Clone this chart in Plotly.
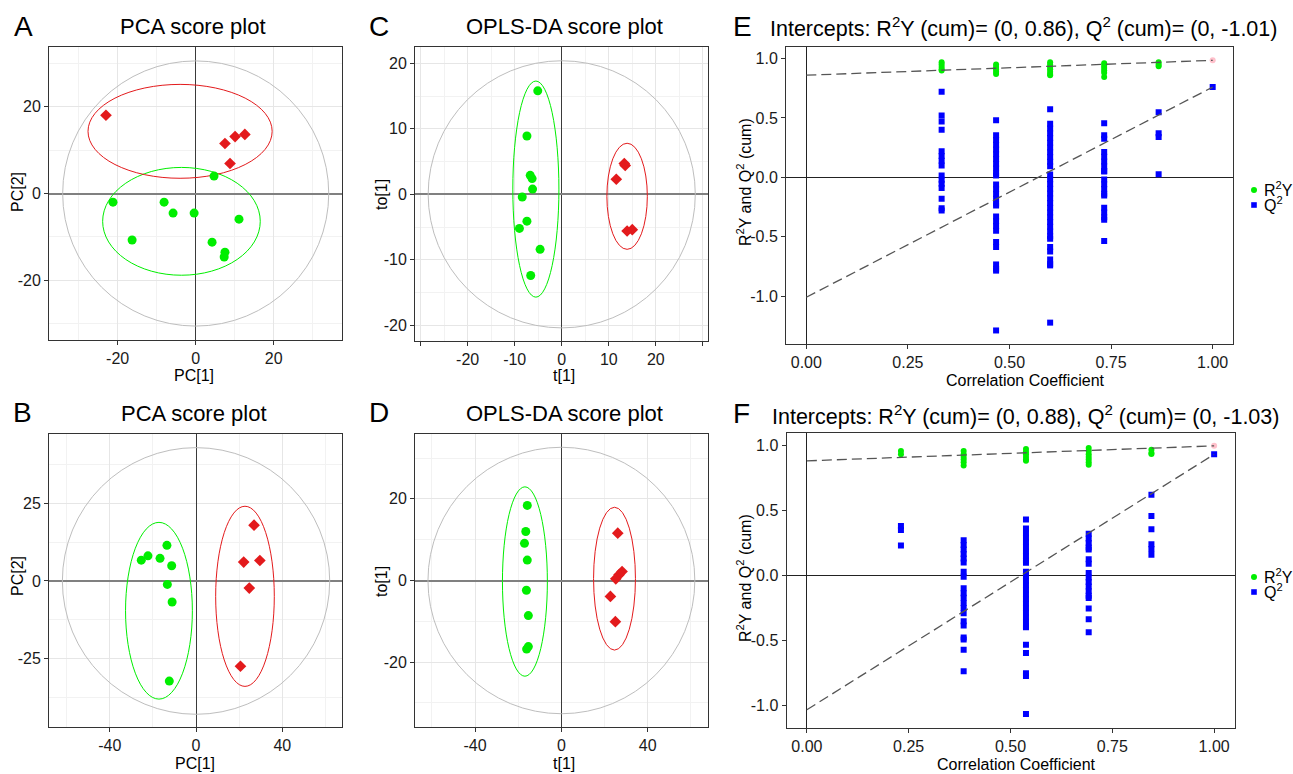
import plotly.graph_objects as go

W, H = 1293, 774
FONT = "Liberation Sans, Arial, Helvetica, sans-serif"
GREEN = "#00EE00"
RED = "#E31A1C"
BLUE = "#0000FF"
PINK = "#FFC0CB"
GREY_CIRCLE = "#BEBEBE"
TXT = "#1A1A1A"
BORDER = "#333333"

# ---------------- Panel A: PCA ----------------
a_ctrl_x = [4.7, -21.2, -8.1, -5.8, -0.4, 11.1, -16.3, 4.2, 7.5, 7.3]
a_ctrl_y = [4.0, -2.0, -2.0, -4.5, -4.5, -5.9, -10.7, -11.2, -13.5, -14.6]
a_trt_x = [-23.0, 7.5, 10.1, 12.6, 8.8]
a_trt_y = [18.0, 11.5, 13.1, 13.6, 6.9]
a_t2 = [0.0, 0.0, 34.1, 30.5]          # center x, center y, semi x, semi y
a_ell_ctrl = [-3.65, -6.4, 20.2, 12.4]
a_ell_trt = [-4.0, 14.3, 23.6, 10.8]

# ---------------- Panel C: OPLS-DA ----------------
c_ctrl_x = [-5.1, -7.4, -6.7, -6.3, -6.2, -8.4, -7.4, -9.0, -4.6, -6.6]
c_ctrl_y = [15.8, 8.9, 2.9, 2.4, 0.8, -0.4, -4.1, -5.2, -8.4, -12.4]
c_trt_x = [11.6, 13.3, 13.5, 13.9, 15.0]
c_trt_y = [2.3, 4.7, 4.4, -5.6, -5.4]
c_t2 = [0.0, 0.0, 28.4, 20.4]
c_ell_ctrl = [-5.5, 0.8, 4.9, 16.5]
c_ell_trt = [13.9, -0.3, 4.3, 8.1]

# ---------------- Panel B: PCA ----------------
b_ctrl_x = [-25.4, -22.3, -16.7, -13.5, -11.3, -13.3, -11.1, -12.4]
b_ctrl_y = [6.7, 8.1, 7.3, 11.5, 4.9, -1.1, -6.8, -32.3]
b_trt_x = [26.9, 22.1, 29.6, 24.7, 20.6]
b_trt_y = [18.0, 6.1, 6.6, -2.3, -27.5]
b_t2 = [0.0, 0.0, 62.0, 43.0]
b_ell_ctrl = [-17.2, -9.6, 15.5, 28.5]
b_ell_trt = [22.7, -4.95, 13.6, 29.05]

# ---------------- Panel D: OPLS-DA ----------------
d_ctrl_x = [-15.8, -16.5, -17.1, -15.8, -16.2, -15.3, -15.3, -16.1]
d_ctrl_y = [18.4, 12.0, 9.1, 5.0, -2.4, -8.6, -16.2, -16.8]
d_trt_x = [26.1, 28.1, 26.7, 25.2, 22.7, 25.0]
d_trt_y = [11.6, 2.2, 1.4, 0.4, -3.9, -10.1]
d_t2 = [0.0, 0.0, 61.8, 32.65]
d_ell_ctrl = [-16.9, -0.25, 10.4, 23.2]
d_ell_trt = [24.6, 0.45, 9.7, 17.5]

# ---------------- Panel E: permutation test ----------------
e_perm_x = [0.333, 0.467, 0.600, 0.733, 0.867]
e_r2y = [
    [0.97, 0.95, 0.93, 0.91, 0.90],
    [0.95, 0.93, 0.91, 0.89, 0.87],
    [0.97, 0.95, 0.93, 0.91, 0.89, 0.87, 0.86],
    [0.96, 0.94, 0.92, 0.90, 0.88, 0.845],
    [0.97, 0.95, 0.935],
]
e_q2 = [
    [0.72, 0.52, 0.47, 0.40, 0.22, 0.18, 0.14, 0.10, 0.015, -0.02, -0.055, -0.09,
     -0.18, -0.26, -0.28],
    [0.48, 0.355, 0.315, 0.275, 0.235, 0.195, 0.155, 0.115, 0.075, 0.035, 0.016,
     -0.06, -0.10, -0.14, -0.18, -0.22, -0.237, -0.33, -0.37, -0.41, -0.45,
     -0.544, -0.586, -0.734, -0.77, -0.786, -1.29],
    [0.574, 0.45, 0.41, 0.37, 0.33, 0.29, 0.25, 0.21, 0.17, 0.13, 0.094, 0.023,
     -0.017, -0.057, -0.097, -0.137, -0.177, -0.217, -0.257, -0.297, -0.337,
     -0.377, -0.417, -0.457, -0.497, -0.518, -0.588, -0.624, -0.692, -0.732,
     -0.742, -1.224],
    [0.455, 0.355, 0.324, 0.214, 0.174, 0.134, 0.094, 0.054, 0.049, -0.019,
     -0.059, -0.099, -0.139, -0.153, -0.257, -0.297, -0.337, -0.358, -0.536],
    [0.547, 0.37, 0.34, 0.025],
]
e_orig = [1.0, 0.985, 0.76]           # x, R2Y, Q2 of the real model
e_intercepts = [0.86, -1.01]           # R2Y, Q2 intercepts

# ---------------- Panel F: permutation test ----------------
f_perm_x = [0.231, 0.385, 0.538, 0.692, 0.846]
f_r2y = [
    [0.955, 0.93],
    [0.955, 0.93, 0.91, 0.89, 0.87, 0.845],
    [0.97, 0.95, 0.93, 0.91, 0.89, 0.88],
    [0.978, 0.955, 0.93, 0.91, 0.89, 0.87, 0.85],
    [0.965, 0.94, 0.933],
]
f_q2 = [
    [0.38, 0.35, 0.23],
    [0.27, 0.235, 0.20, 0.165, 0.13, 0.10, 0.03, -0.01, -0.098, -0.135, -0.17,
     -0.21, -0.25, -0.289, -0.35, -0.383, -0.475, -0.49, -0.569, -0.734],
    [0.43, 0.36, 0.325, 0.29, 0.255, 0.22, 0.185, 0.15, 0.115, 0.098, 0.03,
     -0.005, -0.04, -0.075, -0.11, -0.145, -0.18, -0.215, -0.25, -0.285, -0.32,
     -0.355, -0.39, -0.396, -0.532, -0.595, -0.75, -0.77, -1.063],
    [0.32, 0.285, 0.25, 0.215, 0.20, 0.125, 0.09, 0.02, -0.015, -0.05, -0.085,
     -0.12, -0.155, -0.173, -0.253, -0.336, -0.435],
    [0.62, 0.456, 0.355, 0.241, 0.203, 0.16],
]
f_orig = [1.0, 0.995, 0.93]
f_intercepts = [0.88, -1.03]

# ---------------- ticks ----------------
a_xticks, a_xlabels, a_xminor = [-20, 0, 20], ["-20", "0", "20"], [-30, -10, 10, 30]
a_yticks, a_ylabels, a_yminor = [-20, 0, 20], ["-20", "0", "20"], [-30, -10, 10, 30]
c_xticks = [-30, -20, -10, 0, 10, 20, 30]
c_xlabels = ["", "-20", "-10", "0", "10", "20", ""]
c_xminor = [-25, -15, -5, 5, 15, 25]
c_yticks, c_ylabels = [-20, -10, 0, 10, 20], ["-20", "-10", "0", "10", "20"]
c_yminor = [-15, -5, 5, 15]
b_xticks, b_xlabels, b_xminor = [-40, 0, 40], ["-40", "0", "40"], [-60, -20, 20, 60]
b_yticks, b_ylabels, b_yminor = [-25, 0, 25], ["-25", "0", "25"], [-37.5, -12.5, 12.5, 37.5]
d_xticks, d_xlabels, d_xminor = [-40, 0, 40], ["-40", "0", "40"], [-60, -20, 20, 60]
d_yticks, d_ylabels, d_yminor = [-20, 0, 20], ["-20", "0", "20"], [-30, -10, 10, 30]
ef_xticks = [0, 0.25, 0.5, 0.75, 1.0]
ef_xlabels = ["0.00", "0.25", "0.50", "0.75", "1.00"]
ef_yticks = [-1.0, -0.5, 0.0, 0.5, 1.0]
ef_ylabels = ["-1.0", "-0.5", "0.0", "0.5", "1.0"]


def fx(px):
    return px / W


def fy(py):
    return 1 - py / H


fig = go.Figure()
layout = dict(
    width=W, height=H, margin=dict(l=0, r=0, t=0, b=0),
    paper_bgcolor="white", plot_bgcolor="white",
    font=dict(family=FONT, size=16, color=TXT),
    showlegend=False,
)
shapes = []
annotations = []


def axis_names(n):
    return ("x" if n == 1 else f"x{n}"), ("y" if n == 1 else f"y{n}")


def setup_axes(n, xpix, ypix, xr, yr, xt, xl, yt, yl, xminor=None, yminor=None, grid=True, score=True):
    xa, ya = axis_names(n)
    common = dict(
        showline=True, mirror=True, linecolor=BORDER, linewidth=1,
        ticks="outside", ticklen=4, tickwidth=1, tickcolor=BORDER,
        tickfont=dict(size=16, color=TXT, family=FONT),
        tickmode="array", zeroline=True, fixedrange=True,
    )
    xd = dict(common, domain=[fx(xpix[0]), fx(xpix[1])], range=xr, anchor=ya,
              tickvals=xt, ticktext=xl, showgrid=grid, gridcolor="#E6E6E6", gridwidth=1)
    yd = dict(common, domain=[fy(ypix[1]), fy(ypix[0])], range=yr, anchor=xa,
              tickvals=yt, ticktext=yl, showgrid=grid, gridcolor="#E6E6E6", gridwidth=1)
    if grid:
        xd["minor"] = dict(tickmode="array", tickvals=xminor, showgrid=True,
                           gridcolor="#F2F2F2", gridwidth=1, ticks="")
        yd["minor"] = dict(tickmode="array", tickvals=yminor, showgrid=True,
                           gridcolor="#F2F2F2", gridwidth=1, ticks="")
    if score:
        xd.update(zerolinecolor="#3A3A3A", zerolinewidth=1)
        yd.update(zerolinecolor="#808080", zerolinewidth=1.8)
    else:
        xd.update(zerolinecolor="#222222", zerolinewidth=1)
        yd.update(zerolinecolor="#222222", zerolinewidth=1.2)
    layout["xaxis" if n == 1 else f"xaxis{n}"] = xd
    layout["yaxis" if n == 1 else f"yaxis{n}"] = yd


def ellipse_shape(n, e, color):
    xa, ya = axis_names(n)
    cx, cy, a, b = e
    shapes.append(dict(type="circle", xref=xa, yref=ya, layer="between",
                       x0=cx - a, x1=cx + a, y0=cy - b, y1=cy + b,
                       line=dict(color=color, width=1), fillcolor="rgba(0,0,0,0)"))


def score_panel(n, ctrl_x, ctrl_y, trt_x, trt_y, t2, e_ctrl, e_trt):
    xa, ya = axis_names(n)
    ellipse_shape(n, t2, GREY_CIRCLE)
    ellipse_shape(n, e_ctrl, GREEN)
    ellipse_shape(n, e_trt, RED)
    fig.add_trace(go.Scatter(x=ctrl_x, y=ctrl_y, mode="markers", xaxis=xa, yaxis=ya,
                             marker=dict(symbol="circle", size=9, color=GREEN, line=dict(width=0)),
                             hoverinfo="skip"))
    fig.add_trace(go.Scatter(x=trt_x, y=trt_y, mode="markers", xaxis=xa, yaxis=ya,
                             marker=dict(symbol="diamond", size=9, color=RED, line=dict(width=0)),
                             hoverinfo="skip"))


def perm_panel(n, perm_x, r2y, q2, orig, intercepts):
    xa, ya = axis_names(n)
    rx, ry, qx, qy = [], [], [], []
    for xv, vals in zip(perm_x, r2y):
        rx += [xv] * len(vals)
        ry += vals
    for xv, vals in zip(perm_x, q2):
        qx += [xv] * len(vals)
        qy += vals
    fig.add_trace(go.Scatter(x=qx + [orig[0]], y=qy + [orig[2]], mode="markers", xaxis=xa, yaxis=ya,
                             marker=dict(symbol="square", size=6, color=BLUE, line=dict(width=0)),
                             hoverinfo="skip"))
    fig.add_trace(go.Scatter(x=rx, y=ry, mode="markers", xaxis=xa, yaxis=ya,
                             marker=dict(symbol="circle", size=6, color=GREEN, line=dict(width=0)),
                             hoverinfo="skip"))
    fig.add_trace(go.Scatter(x=[orig[0]], y=[orig[1]], mode="markers", xaxis=xa, yaxis=ya,
                             marker=dict(symbol="circle", size=6, color=PINK, line=dict(width=0)),
                             hoverinfo="skip"))
    fig.add_trace(go.Scatter(x=[0, orig[0]], y=[intercepts[0], orig[1]], mode="lines",
                             xaxis=xa, yaxis=ya, hoverinfo="skip",
                             line=dict(color="#555555", width=1.3, dash="10px,5px")))
    fig.add_trace(go.Scatter(x=[0, orig[0]], y=[intercepts[1], orig[2]], mode="lines",
                             xaxis=xa, yaxis=ya, hoverinfo="skip",
                             line=dict(color="#555555", width=1.3, dash="10px,5px")))


# axes
setup_axes(1, (49, 342), (47, 340), [-37.6, 37.5], [-33.7, 33.7],
           a_xticks, a_xlabels, a_yticks, a_ylabels, a_xminor, a_yminor)
setup_axes(2, (415, 708), (47, 341), [-31.2, 31.1], [-22.4, 22.5],
           c_xticks, c_xlabels, c_yticks, c_ylabels, c_xminor, c_yminor)
setup_axes(3, (786, 1233), (46.7, 344), [-0.05, 1.05], [-1.404, 1.10],
           ef_xticks, ef_xlabels, ef_yticks, ef_ylabels, grid=False, score=False)
setup_axes(4, (49, 342), (434, 727), [-68.2, 67.7], [-47.1, 47.4],
           b_xticks, b_xlabels, b_yticks, b_ylabels, b_xminor, b_yminor)
setup_axes(5, (415, 708), (434, 727), [-67.8, 67.9], [-35.9, 35.9],
           d_xticks, d_xlabels, d_yticks, d_ylabels, d_xminor, d_yminor)
setup_axes(6, (786.5, 1234.5), (432.7, 727.5), [-0.05, 1.05], [-1.166, 1.096],
           ef_xticks, ef_xlabels, ef_yticks, ef_ylabels, grid=False, score=False)

score_panel(1, a_ctrl_x, a_ctrl_y, a_trt_x, a_trt_y, a_t2, a_ell_ctrl, a_ell_trt)
score_panel(2, c_ctrl_x, c_ctrl_y, c_trt_x, c_trt_y, c_t2, c_ell_ctrl, c_ell_trt)
perm_panel(3, e_perm_x, e_r2y, e_q2, e_orig, e_intercepts)
score_panel(4, b_ctrl_x, b_ctrl_y, b_trt_x, b_trt_y, b_t2, b_ell_ctrl, b_ell_trt)
score_panel(5, d_ctrl_x, d_ctrl_y, d_trt_x, d_trt_y, d_t2, d_ell_ctrl, d_ell_trt)
perm_panel(6, f_perm_x, f_r2y, f_q2, f_orig, f_intercepts)


def ann(text, x, y, size, xanchor="center", angle=0):
    annotations.append(dict(text=text, x=fx(x), y=fy(y), xref="paper", yref="paper",
                            xanchor=xanchor, yanchor="middle", showarrow=False,
                            textangle=angle, font=dict(family=FONT, size=size, color="#000000")))


# panel letters
for letter, x, y in [("A", 23, 26), ("C", 379, 26), ("E", 742, 26),
                     ("B", 22, 412), ("D", 379, 412), ("F", 741, 413)]:
    ann(letter, x, y, 28)

# panel titles
ann("PCA score plot", 193, 27, 22)
ann("OPLS-DA score plot", 564, 27, 22)
ann("PCA score plot", 194, 414, 22)
ann("OPLS-DA score plot", 564, 414, 22)
ann("Intercepts: R<sup>2</sup>Y (cum)= (0, 0.86), Q<sup>2</sup> (cum)= (0, -1.01)", 1023, 27, 21.5)
ann("Intercepts: R<sup>2</sup>Y (cum)= (0, 0.88), Q<sup>2</sup> (cum)= (0, -1.03)", 1025, 415, 21.5)

# axis titles
ann("PC[1]", 194, 375, 16)
ann("PC[2]", 17, 192, 16, angle=-90)
ann("t[1]", 564, 375, 16)
ann("to[1]", 381, 194, 16, angle=-90)
ann("Correlation Coefficient", 1025, 380, 16)
ann("R<sup>2</sup>Y and Q<sup>2</sup> (cum)", 744, 182, 16, angle=-90)
ann("PC[1]", 195, 763, 16)
ann("PC[2]", 17, 576, 16, angle=-90)
ann("t[1]", 564, 763, 16)
ann("to[1]", 381, 581, 16, angle=-90)
ann("Correlation Coefficient", 1017, 764, 16)
ann("R<sup>2</sup>Y and Q<sup>2</sup> (cum)", 744, 578, 16, angle=-90)

# legends (keys)
for ly in (190, 577):
    shapes.append(dict(type="circle", xref="paper", yref="paper",
                       x0=fx(1251), x1=fx(1257), y0=fy(ly + 3), y1=fy(ly - 3),
                       fillcolor=GREEN, line=dict(width=0)))
    shapes.append(dict(type="rect", xref="paper", yref="paper",
                       x0=fx(1251.2), x1=fx(1256.8), y0=fy(ly + 17.8), y1=fy(ly + 12.2),
                       fillcolor=BLUE, line=dict(width=0)))
    ann("R<sup>2</sup>Y", 1262, ly - 1, 16, xanchor="left")
    ann("Q<sup>2</sup>", 1262, ly + 14, 16, xanchor="left")

layout["shapes"] = shapes
layout["annotations"] = annotations
fig.update_layout(**layout)
fig.write_html("out.html")
